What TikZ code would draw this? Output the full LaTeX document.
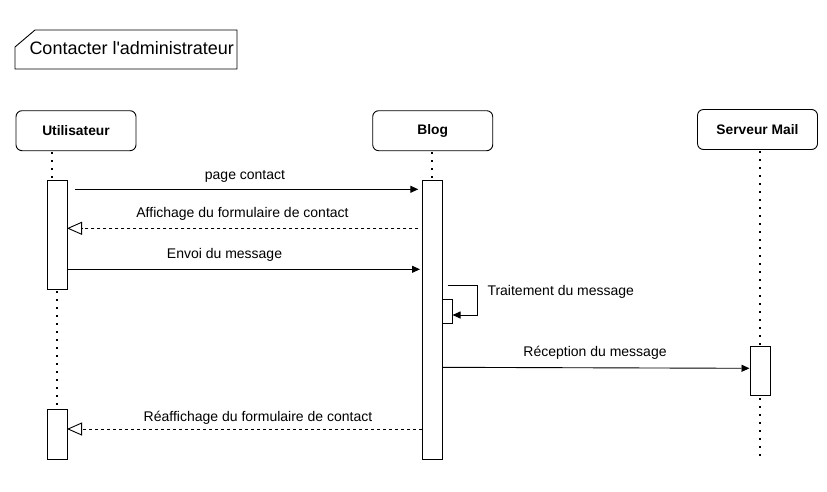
\documentclass[tikz,border=0pt]{standalone}
\usepackage{fontspec}
\setmainfont{Liberation Sans}
\usetikzlibrary{arrows.meta}
\begin{document}
\begin{tikzpicture}[x=1pt,y=-1pt,
  part/.style={draw,rounded corners=6pt,line width=0.9pt,minimum width=120pt,minimum height=40pt,font=\bfseries\fontsize{13.8}{16}\selectfont,inner sep=0pt},
  act/.style={draw,line width=0.9pt,fill=white,minimum width=20pt,inner sep=0pt},
  life/.style={line width=2pt,dash pattern=on 2pt off 6pt},
  msg/.style={line width=0.9pt,-{Triangle[length=8pt,width=7pt]}},
  ret/.style={line width=0.9pt,dash pattern=on 3pt off 3pt,-{Triangle[open,length=15pt,width=13pt]}},
  lbl/.style={font=\fontsize{14}{16}\selectfont,anchor=base,inner sep=0pt}]
\useasboundingbox (0,0) rectangle (827,491);
% frame label
\draw[line width=0.9pt] (35,30) -- (237,30) -- (237,69) -- (15,69) -- (15,47) -- cycle;
\node[font=\fontsize{18}{20}\selectfont,anchor=base west,inner sep=0pt] (title) at (29.3,54.3) {Contacter l\textquotesingle administrateur};
% participants
\node[part] (u) at (76,130.7) {Utilisateur};
\node[part] (b) at (432.7,130.7) {Blog};
\node[part] (s) at (757.5,129.5) {Serveur Mail};
% lifelines
\coordinate (ul1) at (52,152);
\coordinate (ul2) at (52,180);
\coordinate (ul3) at (57,291);
\coordinate (ul4) at (57,409);
\coordinate (bl1) at (432,152);
\coordinate (bl2) at (432,180);
\coordinate (sl1) at (759.5,151);
\coordinate (sl2) at (759.5,346);
\coordinate (sl3) at (759.5,398);
\coordinate (sl4) at (759.5,461);
\draw[life] (ul1) -- (ul2);
\draw[life] (ul3) -- (ul4);
\draw[life] (bl1) -- (bl2);
\draw[life] (sl1) -- (sl2);
\draw[life] (sl3) -- (sl4);
% activations
\node[act,minimum height=109pt] (ua) at (57,234.5) {};
\node[act,minimum height=50pt] (ua2) at (57,434) {};
\node[act,minimum height=279pt] (ba) at (432,319.5) {};
\node[act,minimum width=10pt,minimum height=24pt] (bs) at (447.5,311) {};
\node[act,minimum height=49pt] (sa) at (760,370.5) {};
% messages
\coordinate (m1s) at (75,189.3);
\coordinate (m1e) at (418.3,189.3);
\draw[msg] (m1s) -- (m1e);
\node[lbl] (l1) at (245,179) {page contact};
\coordinate (m2s) at (418.3,228.3);
\coordinate (m2e) at (67,228.3);
\draw[ret] (m2s) -- (m2e);
\node[lbl] (l2) at (242.5,217.7) {Affichage du formulaire de contact};
\coordinate (m3s) at (67,269.3);
\coordinate (m3e) at (420,269.3);
\draw[msg] (m3s) -- (m3e);
\node[lbl] (l3) at (224.5,258.3) {Envoi du message};
\coordinate (m4s) at (447.7,285);
\coordinate (m4a) at (477.7,285);
\coordinate (m4b) at (477.7,315);
\coordinate (m4e) at (452.5,315);
\draw[msg] (m4s) -- (m4a) -- (m4b) -- (m4e);
\node[font=\fontsize{14}{16}\selectfont,anchor=base west,inner sep=0pt] (l4) at (487.3,295) {Traitement du message};
\coordinate (m5s) at (442,367.3);
\coordinate (m5e) at (749.5,368.3);
\draw[msg] (m5s) -- (m5e);
\node[lbl] (l5) at (595,356.7) {Réception du message};
\coordinate (m6s) at (421.7,429);
\coordinate (m6e) at (67,429);
\draw[ret] (m6s) -- (m6e);
\node[lbl] (l6) at (258,421.7) {Réaffichage du formulaire de contact};
\end{tikzpicture}
\end{document}
